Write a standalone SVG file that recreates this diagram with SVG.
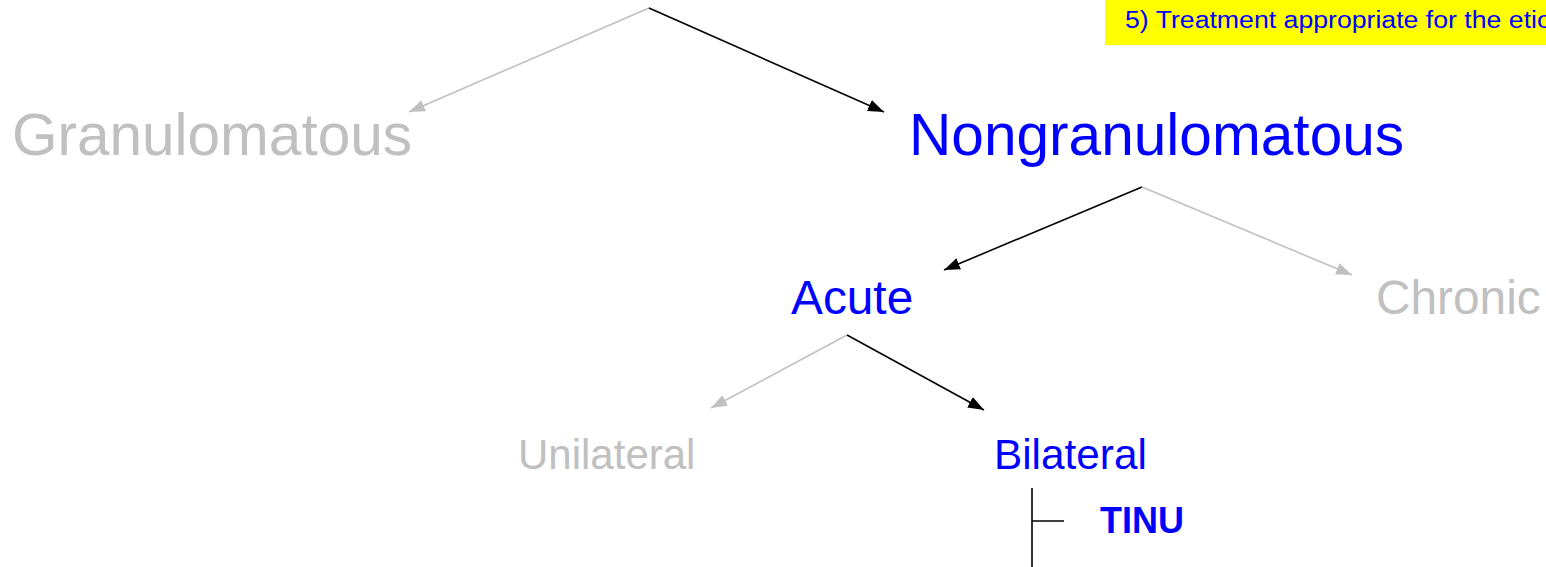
<svg xmlns="http://www.w3.org/2000/svg" width="1546" height="567" viewBox="0 0 1546 567">
<style>
text{font-family:"Liberation Sans",Arial,sans-serif}
.on{fill:#0000ff}
.off{fill:#c0c0c0}
.lk{stroke:#000;stroke-width:1.6;fill:none}
.lg{stroke:#c0c0c0;stroke-width:1.6;fill:none}
</style>
<defs>
<marker id="ak" markerUnits="userSpaceOnUse" markerWidth="18" markerHeight="14" refX="16" refY="6" orient="auto"><path d="M0,0 L16,6 L0,12 Z" fill="#000"/></marker>
<marker id="ag" markerUnits="userSpaceOnUse" markerWidth="18" markerHeight="14" refX="16" refY="6" orient="auto"><path d="M0,0 L16,6 L0,12 Z" fill="#c0c0c0"/></marker>
</defs>
<g id="note">
<rect x="1105" y="0" width="441" height="45" fill="#ffff00"/>
<text transform="translate(1125,28) scale(1.16,1)" x="0" y="0" font-size="23" class="on">5) Treatment appropriate for the etio</text>
</g>
<g id="connectors">
<path class="lg" d="M649,8 L409,112" marker-end="url(#ag)"/>
<path class="lk" d="M649,8 L884,112" marker-end="url(#ak)"/>
<path class="lk" d="M1142,187 L944,270" marker-end="url(#ak)"/>
<path class="lg" d="M1142,187 L1352,275" marker-end="url(#ag)"/>
<path class="lg" d="M847,335 L711,408" marker-end="url(#ag)"/>
<path class="lk" d="M847,335 L984,410" marker-end="url(#ak)"/>
<path class="lk" d="M1032,488 L1032,567 M1032,521 L1064,521"/>
</g>
<g id="granulomatous"><text x="12" y="155" font-size="58.5" class="off">Granulomatous</text></g>
<g id="nongranulomatous"><text x="909" y="155" font-size="58.6" class="on">Nongranulomatous</text></g>
<g id="acute"><text x="791" y="314" font-size="47.8" class="on">Acute</text></g>
<g id="chronic"><text x="1376" y="314" font-size="47.8" class="off">Chronic</text></g>
<g id="unilateral"><text x="518" y="469" font-size="42" class="off">Unilateral</text></g>
<g id="bilateral"><text x="994" y="469" font-size="42.3" class="on">Bilateral</text></g>
<g id="tinu"><text x="1100" y="533" font-size="36" font-weight="bold" class="on">TINU</text></g>
</svg>
